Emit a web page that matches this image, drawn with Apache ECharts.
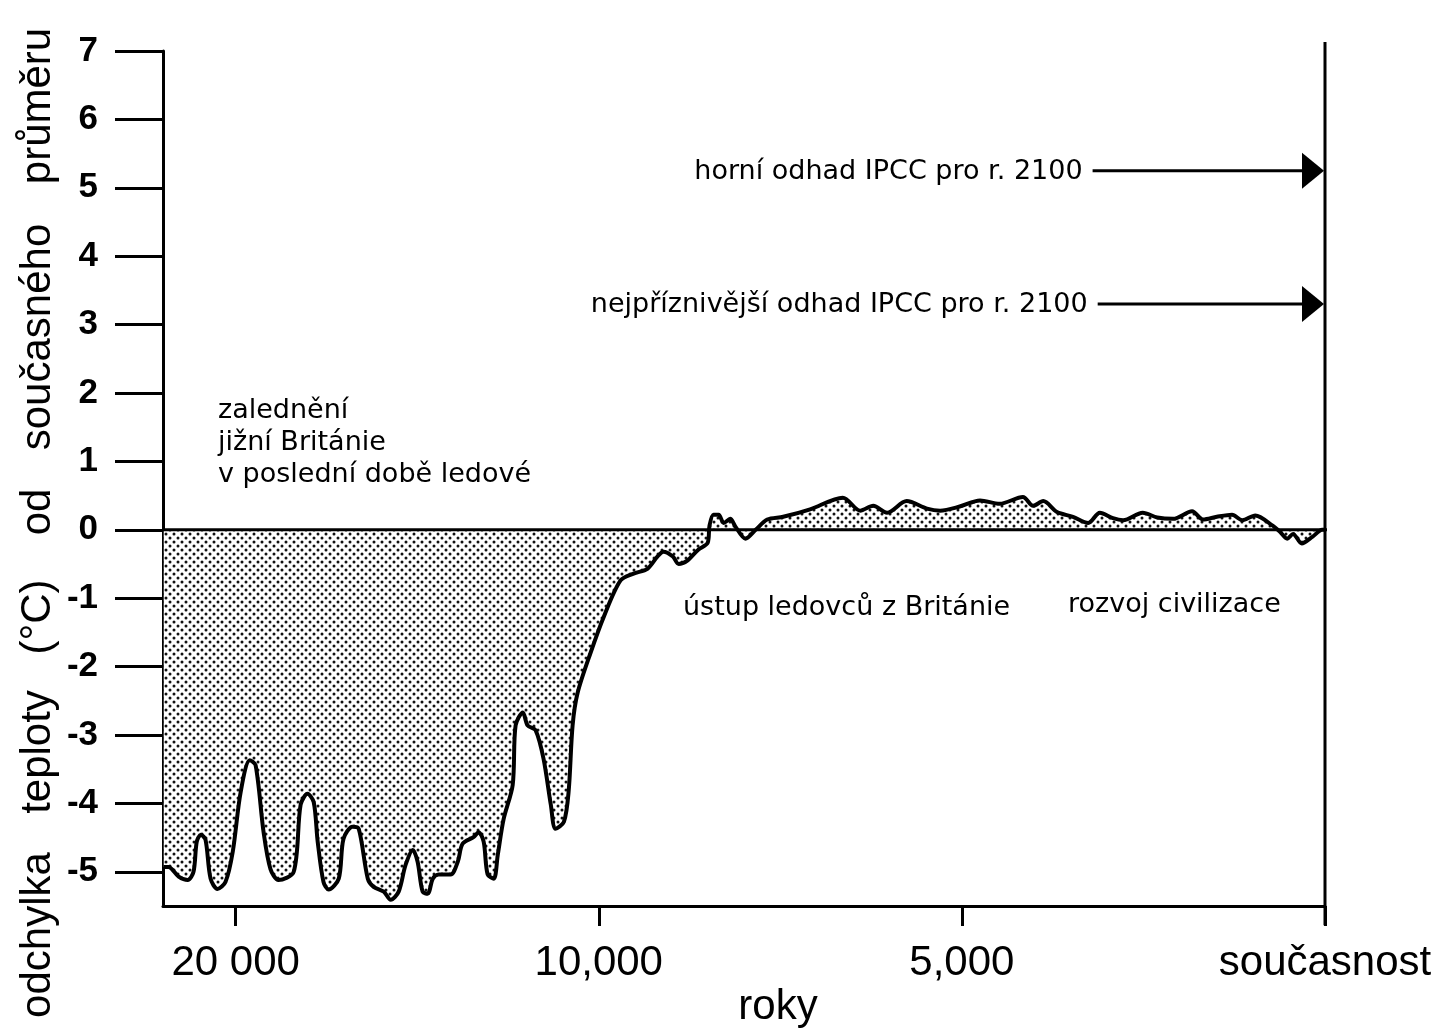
<!DOCTYPE html>
<html><head><meta charset="utf-8">
<script src="https://cdn.jsdelivr.net/npm/echarts@6/dist/echarts.min.js"></script>
<style>html,body{margin:0;padding:0;background:#fff}#c{width:1441px;height:1034px}</style>
</head><body><div id="c"></div>
<script>
// ---- data (years before present, temperature deviation °C) ----
const years = [21980,21850,21570,21320,21160,21070,20960,20830,20690,20500,20280,20080,19860,19610,19450,19230,19040,18820,18400,18210,18020,17850,17740,17580,17440,17160,17030,16780,16610,16360,16200,15920,15730,15510,15320,15120,14990,14850,14710,14570,14410,14080,13880,13750,13440,13310,13170,13060,12890,12780,12620,12370,12290,12090,11960,11740,11520,11320,11190,10960,10830,10720,10580,10220,9930,9700,9520,9330,9190,9110,8980,8900,8780,8630,8500,8475,8420,8350,8280,8190,8120,7980,7840,7680,7460,7090,6640,6400,6220,6030,5760,5480,5300,5030,4750,4480,4160,4020,3880,3690,3470,3260,3100,2920,2780,2510,2310,2090,1830,1680,1490,1280,1140,960,720,620,520,440,320,170,40,0];
const values = [-4.93,-4.93,-5.07,-5.12,-5.0,-4.56,-4.46,-4.53,-5.10,-5.25,-5.15,-4.71,-3.83,-3.37,-3.44,-4.42,-4.96,-5.12,-5.0,-4.02,-3.86,-3.98,-4.56,-5.15,-5.26,-5.10,-4.52,-4.34,-4.37,-5.10,-5.22,-5.29,-5.41,-5.29,-4.90,-4.68,-4.85,-5.29,-5.32,-5.10,-5.04,-5.04,-4.85,-4.59,-4.49,-4.42,-4.56,-5.04,-5.10,-4.75,-4.23,-3.73,-2.86,-2.67,-2.86,-2.93,-3.35,-4.02,-4.37,-4.27,-3.83,-2.86,-2.38,-1.79,-1.27,-0.74,-0.64,-0.57,-0.39,-0.32,-0.39,-0.50,-0.45,-0.29,-0.19,0.06,0.22,0.22,0.10,0.16,0.05,-0.13,0.0,0.15,0.19,0.30,0.47,0.28,0.35,0.25,0.42,0.31,0.28,0.34,0.43,0.38,0.48,0.35,0.42,0.26,0.19,0.10,0.25,0.17,0.14,0.25,0.18,0.16,0.27,0.15,0.19,0.22,0.14,0.21,0.06,-0.03,-0.13,-0.06,-0.20,-0.10,0.0,0.0];
const xTickYears = [20000, 10000, 5000, 0];
const xTickLabels = ['20 000', '10,000', '5,000', 'současnost'];
const yTicks = [-5,-4,-3,-2,-1,0,1,2,3,4,5,6,7];
const yMin = -5.5, yMax = 7;
const xStartYear = 22000;
const estimateLabels = ['horní odhad IPCC pro r. 2100', 'nejpříznivější odhad IPCC pro r. 2100'];
const estimateLevels = [5.25, 3.3];
const estimateStartYears = [3200, 3130];
const yTitleWords = ['odchylka', 'teploty', '(°C)', 'od', 'současného', 'průměru'];
const iceText = ['zalednění', 'jižní Británie', 'v poslední době ledové'];
const retreatText = 'ústup ledovců z Británie';
const civText = 'rozvoj civilizace';
const xName = 'roky';

// piecewise time axis as printed: 20000-10000, 10000-5000, 5000-0 take equal widths
function toU(y) {
  if (y >= 10000) return 2 - (y - 10000) / 10000;
  if (y >= 5000) return 3 - (y - 5000) / 5000;
  return 4 - y / 5000;
}

const pc = document.createElement('canvas');
pc.width = 8; pc.height = 8;
const g = pc.getContext('2d');
g.fillStyle = '#ffffff'; g.fillRect(0, 0, 8, 8);
g.fillStyle = '#111111';
g.beginPath(); g.arc(2, 2, 1.5, 0, Math.PI * 2); g.fill();
g.beginPath(); g.arc(6, 6, 1.5, 0, Math.PI * 2); g.fill();

const FONT = '"Liberation Sans", Arial, sans-serif';
const AFONT = '27px "DejaVu Sans", sans-serif';
const xTickU = xTickYears.map(toU);

const chart = echarts.init(document.getElementById('c'), null, {renderer: 'canvas'});

const yTitlePos = [935, 752, 617, 512, 337, 106];
const graphic = [];
yTitleWords.forEach((w, i) => graphic.push({
  type: 'text', x: 38, y: yTitlePos[i], rotation: Math.PI / 2,
  style: {text: w, x: 0, y: 0, align: 'center', verticalAlign: 'middle', font: '42px ' + FONT, fill: '#000'}
}));
const iceY = [411, 443, 475];
iceText.forEach((t, i) => graphic.push({
  type: 'text', x: 218, y: iceY[i],
  style: {text: t, align: 'left', verticalAlign: 'middle', font: AFONT, fill: '#000'}
}));
graphic.push({type: 'text', x: 683, y: 608, style: {text: retreatText, align: 'left', verticalAlign: 'middle', font: AFONT, fill: '#000'}});
graphic.push({type: 'text', x: 1068, y: 605, style: {text: civText, align: 'left', verticalAlign: 'middle', font: AFONT, fill: '#000'}});
graphic.push({type: 'text', x: 778, y: 1007, style: {text: xName, align: 'center', verticalAlign: 'middle', font: '42px ' + FONT, fill: '#000'}});

const option = {
  animation: false,
  backgroundColor: '#fff',
  grid: {left: 163, top: 51, width: 1162, height: 855, containLabel: false},
  xAxis: {
    type: 'value', min: toU(xStartYear), max: toU(0),
    axisLine: {show: true, onZero: false, lineStyle: {color: '#000', width: 3}},
    axisTick: {show: true, customValues: xTickU, length: 20, inside: false, lineStyle: {color: '#000', width: 3}},
    axisLabel: {
      show: true, customValues: xTickU, margin: 36, color: '#000', fontSize: 42, fontFamily: FONT,
      formatter: v => { const i = xTickU.findIndex(u => Math.abs(u - v) < 1e-6); return i >= 0 ? xTickLabels[i] : ''; }
    },
    splitLine: {show: false}
  },
  yAxis: {
    type: 'value', min: yMin, max: yMax,
    axisLine: {show: true, onZero: false, lineStyle: {color: '#000', width: 3}},
    axisTick: {show: true, customValues: yTicks, length: 48, inside: false, lineStyle: {color: '#000', width: 3}},
    axisLabel: {show: true, customValues: yTicks, margin: 65, color: '#000', fontSize: 35, fontWeight: 'bold', fontFamily: FONT},
    splitLine: {show: false}
  },
  graphic: graphic,
  series: [
    {
      type: 'line', name: 'curve', z: 2,
      data: years.map((y, i) => [toU(y), values[i]]),
      smooth: 0.3, symbol: 'none',
      lineStyle: {color: '#000', width: 4},
      areaStyle: {color: {image: pc, repeat: 'repeat'}, opacity: 1, origin: 'auto'}
    },
    {
      type: 'line', name: 'zero', z: 3, clip: false, symbol: 'none',
      data: [[toU(xStartYear), 0], [toU(-500), 0]],
      lineStyle: {color: '#000', width: 3}
    },
    {
      type: 'line', name: 'present', z: 3, clip: false, symbol: 'none',
      data: [[toU(0), 7.13], [toU(0), -5.78]],
      lineStyle: {color: '#000', width: 3}
    },
    {
      type: 'custom', name: 'estimates', z: 4, clip: false,
      encode: {x: [0, 1], y: 2},
      data: estimateLevels.map((lv, i) => [toU(estimateStartYears[i]), toU(0), lv, i]),
      renderItem: (params, api) => {
        const s = api.coord([api.value(0), api.value(2)]);
        const e = api.coord([api.value(1), api.value(2)]);
        const idx = api.value(3);
        return {
          type: 'group', children: [
            {type: 'line', shape: {x1: s[0], y1: s[1], x2: e[0] - 20, y2: e[1]}, style: {stroke: '#000', lineWidth: 3}},
            {type: 'polygon', shape: {points: [[e[0] - 1, e[1]], [e[0] - 23, e[1] - 18], [e[0] - 23, e[1] + 18]]}, style: {fill: '#000'}},
            {type: 'text', style: {text: estimateLabels[idx], x: s[0] - 10, y: s[1] + 1, align: 'right', verticalAlign: 'middle', font: AFONT, fill: '#000'}}
          ]
        };
      }
    }
  ]
};
chart.setOption(option);
</script></body></html>
